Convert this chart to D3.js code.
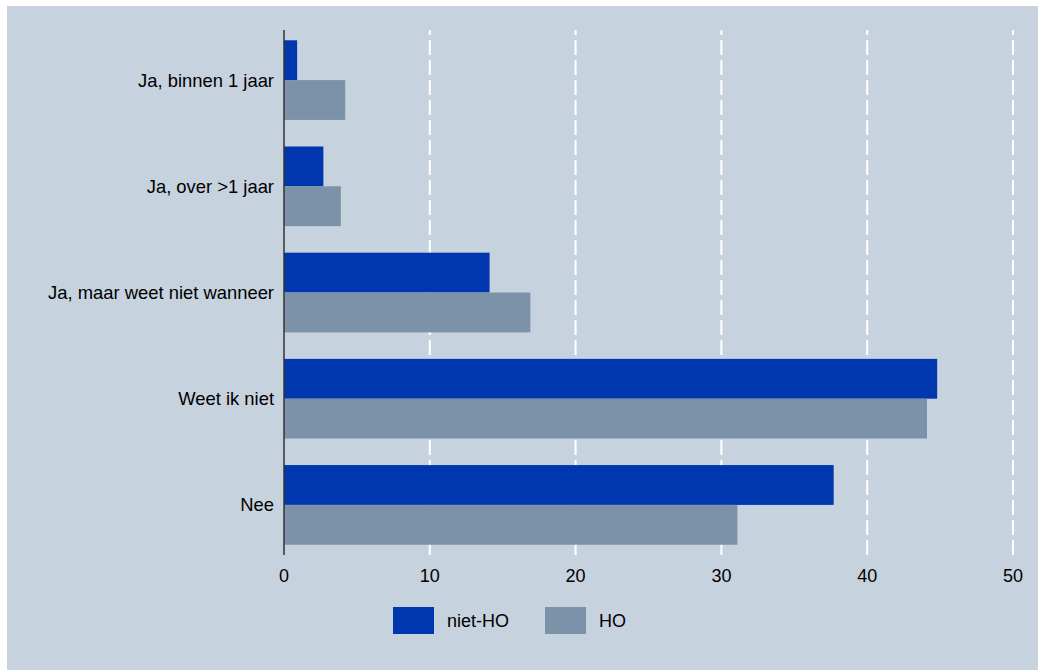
<!DOCTYPE html>
<html><head><meta charset="utf-8">
<script src="https://cdn.jsdelivr.net/npm/d3@7"></script>
<style>body{margin:0;background:#fff}svg{display:block}</style>
</head><body>
<svg id="c" width="1038" height="670"></svg>
<script>
const categories = ["Ja, binnen 1 jaar", "Ja, over >1 jaar", "Ja, maar weet niet wanneer", "Weet ik niet", "Nee"];
const seriesNames = ["niet-HO", "HO"];
const nietHO = [0.9, 2.7, 14.1, 44.8, 37.7];
const HO = [4.2, 3.9, 16.9, 44.1, 31.1];
const xTicks = [0, 10, 20, 30, 40, 50];
const colors = ["#0037ae", "#7b92a8"];

const svg = d3.select("#c");
const font = "'Liberation Sans', Arial, sans-serif";
svg.append("rect").attr("x", 7).attr("y", 6).attr("width", 1031).attr("height", 664).attr("fill", "#c6d2de");

const x = d3.scaleLinear().domain([0, 50]).range([284, 1013]);
const y = d3.scaleBand().domain(categories).range([27, 558]).paddingInner(0.25).paddingOuter(0.125);
const ySub = d3.scaleBand().domain(seriesNames).range([0, y.bandwidth()]);
const yTop = 30, yBot = 555;

// gridlines (drawn bottom-up so dash pattern starts at bottom)
svg.append("g").selectAll("line").data(xTicks.filter(d => d > 0)).join("line")
  .attr("x1", d => x(d)).attr("x2", d => x(d))
  .attr("y1", yBot).attr("y2", yTop)
  .attr("stroke", "#fff").attr("stroke-width", 2).attr("stroke-dasharray", "15,5");

const data = categories.map((c, i) => ({ c, vals: [nietHO[i], HO[i]] }));
const g = svg.append("g");
data.forEach(d => {
  d.vals.forEach((v, j) => {
    g.append("rect")
      .attr("x", x(0)).attr("y", y(d.c) + ySub(seriesNames[j]))
      .attr("width", x(v) - x(0)).attr("height", ySub.bandwidth())
      .attr("fill", colors[j]);
  });
});

// y axis line
svg.append("line").attr("x1", x(0)).attr("x2", x(0)).attr("y1", yTop).attr("y2", yBot)
  .attr("stroke", "#333").attr("stroke-width", 1.5);

// category labels
svg.append("g").selectAll("text").data(categories).join("text")
  .attr("x", 274).attr("y", d => y(d) + y.bandwidth() / 2).attr("dy", "0.35em")
  .attr("text-anchor", "end").attr("font-family", font).attr("font-size", 18.4).attr("fill", "#000")
  .text(d => d);

// x tick labels
svg.append("g").selectAll("text").data(xTicks).join("text")
  .attr("x", d => x(d)).attr("y", 582)
  .attr("text-anchor", "middle").attr("font-family", font).attr("font-size", 18).attr("fill", "#000")
  .text(d => d);

// legend
const legX = [393, 545];
seriesNames.forEach((s, i) => {
  svg.append("rect").attr("x", legX[i]).attr("y", 607).attr("width", 41).attr("height", 27).attr("fill", colors[i]);
  svg.append("text").attr("x", legX[i] + 54).attr("y", 627)
    .attr("font-family", font).attr("font-size", 18).attr("fill", "#000").text(s);
});
</script>
</body></html>
